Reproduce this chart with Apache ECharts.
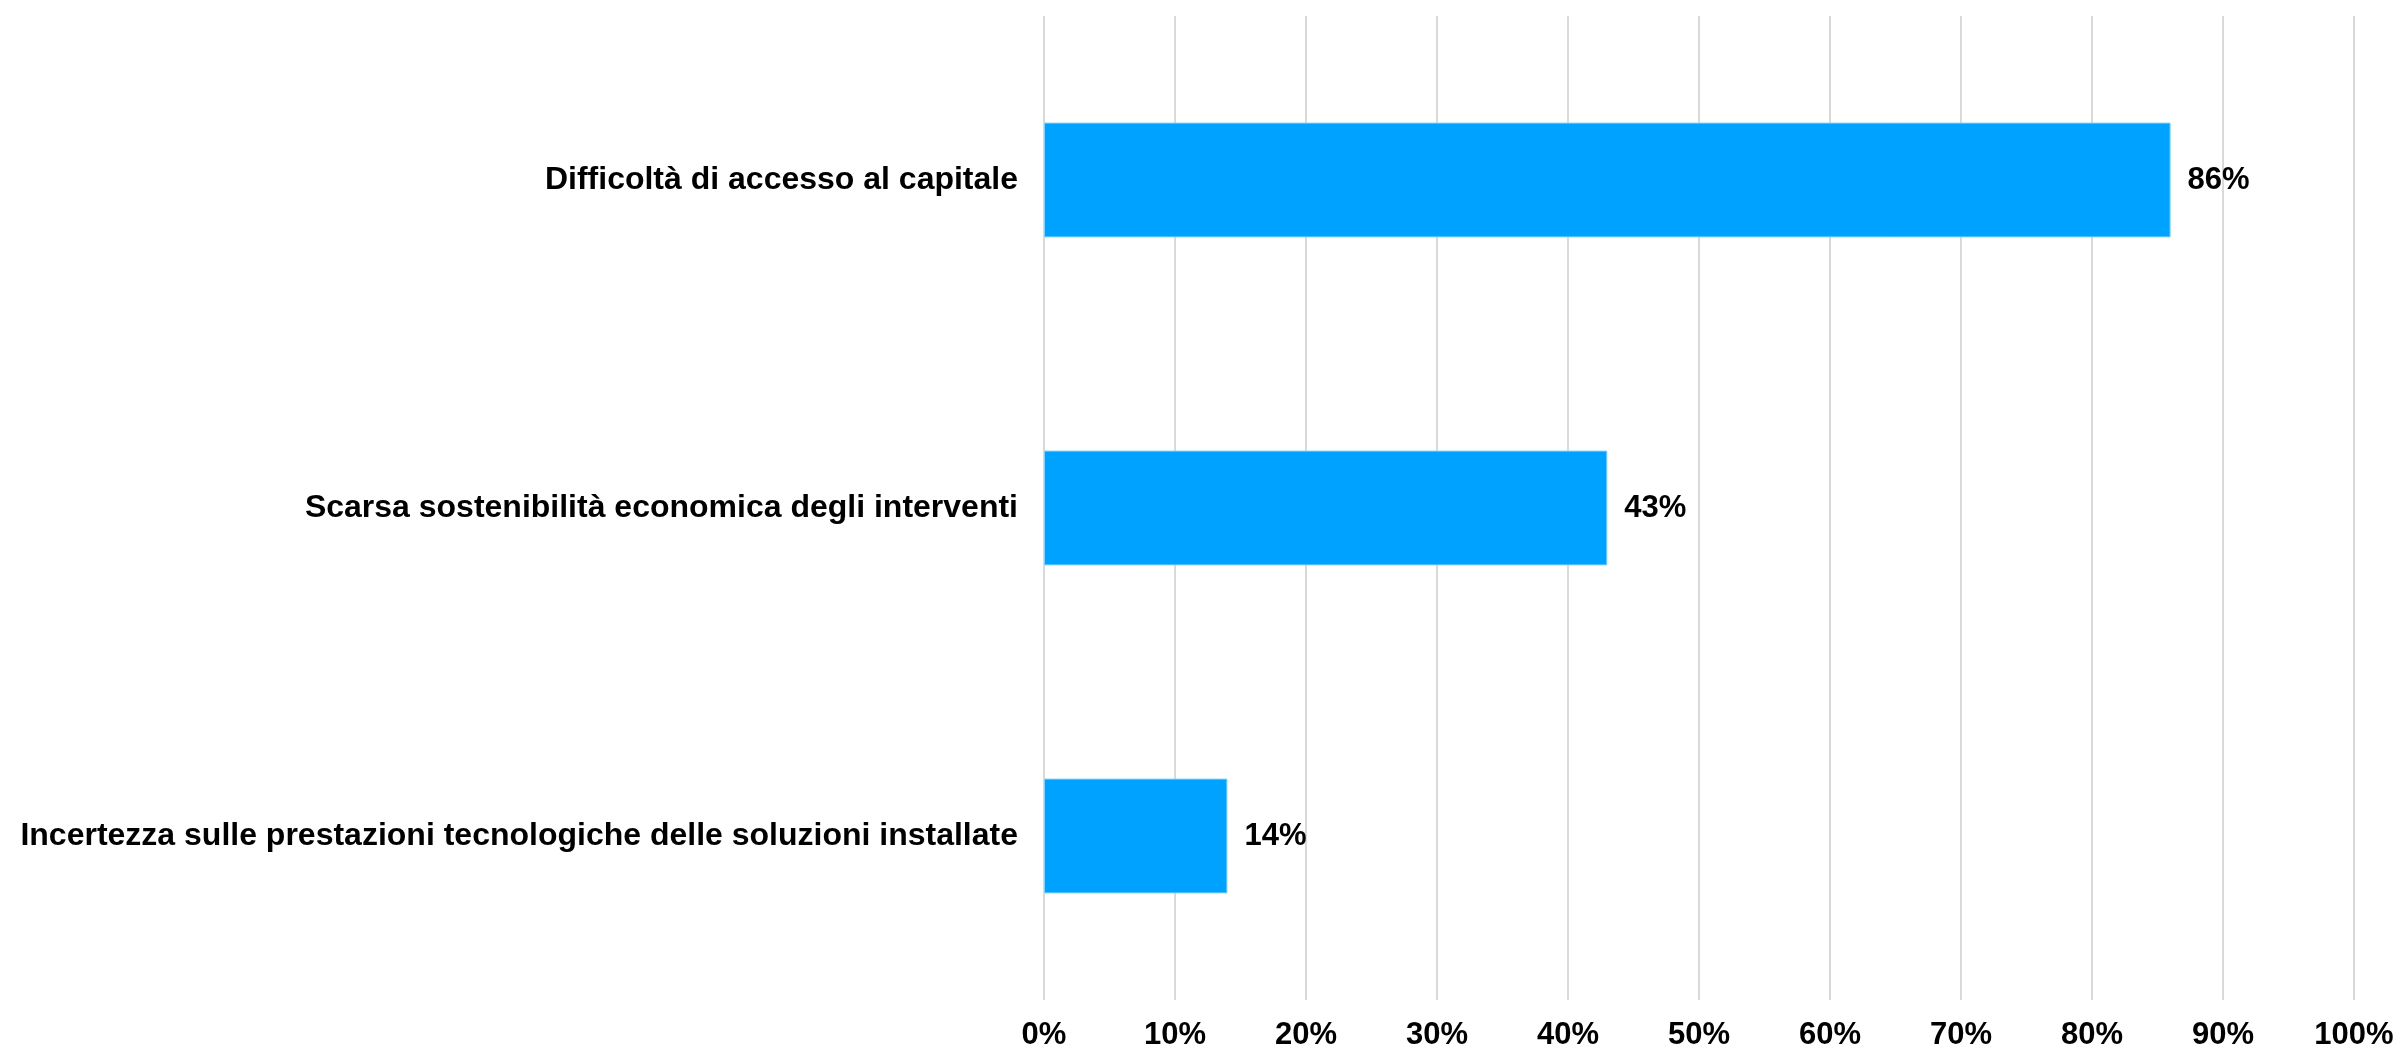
<!DOCTYPE html>
<html>
<head>
<meta charset="utf-8">
<script src="https://cdn.jsdelivr.net/npm/echarts@6/dist/echarts.min.js"></script>
<style>
html,body{margin:0;padding:0;background:#fff;}
#chart{width:2401px;height:1052px;}
</style>
</head>
<body>
<div id="chart"></div>
<script>
const categories = [
  "Difficoltà di accesso al capitale",
  "Scarsa sostenibilità economica degli interventi",
  "Incertezza sulle prestazioni tecnologiche delle soluzioni installate"
];
const values = [86, 43, 14];
const tickValues = [0, 10, 20, 30, 40, 50, 60, 70, 80, 90, 100];

const chart = echarts.init(document.getElementById('chart'));
chart.setOption({
  animation: false,
  backgroundColor: '#ffffff',
  grid: { left: 1044, right: 47, top: 16, bottom: 52, containLabel: false },
  xAxis: {
    type: 'value',
    min: tickValues[0],
    max: tickValues[tickValues.length - 1],
    interval: 10,
    axisLine: { show: false },
    axisTick: { show: false },
    splitLine: { show: true, lineStyle: { color: '#d9d9d9', width: 2 } },
    axisLabel: {
      formatter: '{value}%',
      color: '#000',
      fontFamily: 'Liberation Sans, Arial, sans-serif',
      fontWeight: 'bold',
      fontSize: 31,
      margin: 20
    }
  },
  yAxis: {
    type: 'category',
    data: categories,
    inverse: true,
    axisLine: { show: false },
    axisTick: { show: false },
    axisLabel: {
      color: '#000',
      fontFamily: 'Liberation Sans, Arial, sans-serif',
      fontWeight: 'bold',
      fontSize: 32,
      margin: 26
    }
  },
  series: [{
    type: 'bar',
    data: values,
    barWidth: '35%',
    itemStyle: { color: '#00a2ff', borderColor: '#7fd0ff', borderWidth: 1 },
    label: {
      show: true,
      position: 'right',
      distance: 17,
      formatter: '{c}%',
      color: '#000',
      fontFamily: 'Liberation Sans, Arial, sans-serif',
      fontWeight: 'bold',
      fontSize: 31
    }
  }]
});
</script>
</body>
</html>
